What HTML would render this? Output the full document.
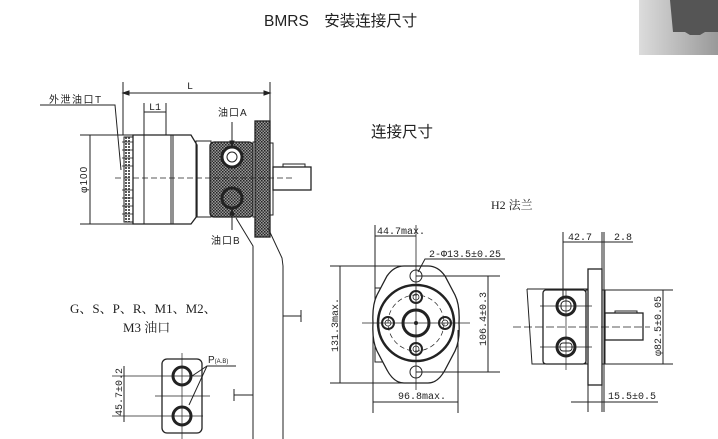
<!DOCTYPE html>
<html><head><meta charset="utf-8"><style>
html,body{margin:0;padding:0;background:#fff;width:718px;height:439px;overflow:hidden}
svg{display:block}
text{font-family:"Liberation Sans","Noto Sans CJK SC",sans-serif;fill:#222}
.s{font-family:"Liberation Serif","Noto Serif CJK SC",serif}
.m{font-family:"Liberation Mono","Noto Sans CJK SC",monospace}
</style></head><body>
<svg width="718" height="439" viewBox="0 0 718 439" xmlns="http://www.w3.org/2000/svg">
<defs>
<pattern id="h" width="3" height="3" patternUnits="userSpaceOnUse">
<rect width="3" height="3" fill="#999"/><rect width="1.5" height="1.5" fill="#222"/><rect x="1.5" y="1.5" width="1.5" height="1.5" fill="#333"/>
</pattern>
<linearGradient id="g" x1="0" x2="1"><stop offset="0" stop-color="#dcdcdc"/><stop offset="1" stop-color="#999"/></linearGradient>
</defs>
<rect x="639" y="0" width="79" height="55" fill="url(#g)"/>
<path d="M670 0 H718 V32 H705 L700 35 H690 L685 32 H673 Z" fill="#555"/>

<text x="264" y="26" font-size="15.5">BMRS　安装连接尺寸</text>
<text x="371" y="137" font-size="15.5">连接尺寸</text>
<text x="491" y="209" font-size="12" class="s">H2 法兰</text>

<g stroke="#222" fill="none" stroke-width="1">
<line x1="123" y1="82" x2="123" y2="135"/><line x1="270" y1="82" x2="270" y2="121"/>
<line x1="123" y1="93" x2="270" y2="93"/>
<path d="M123 93 l6 -2 v4z M270 93 l-6 -2 v4z" fill="#222"/>
<line x1="144" y1="103" x2="144" y2="135"/><line x1="166" y1="103" x2="166" y2="135"/>
<line x1="144" y1="112" x2="166" y2="112"/>
<polyline points="40,105 115,105 121,170"/>
<line x1="80" y1="135" x2="133" y2="135"/><line x1="80" y1="224" x2="133" y2="224"/>
<line x1="90" y1="135" x2="90" y2="224"/>
<rect x="124" y="137" width="9" height="85" fill="#fff"/>
<g stroke-width="0.8"><line x1="122" y1="142" x2="133" y2="142"/><line x1="122" y1="150" x2="133" y2="150"/><line x1="122" y1="158" x2="133" y2="158"/><line x1="122" y1="166" x2="133" y2="166"/><line x1="122" y1="190" x2="133" y2="190"/><line x1="122" y1="198" x2="133" y2="198"/><line x1="122" y1="206" x2="133" y2="206"/><line x1="122" y1="214" x2="133" y2="214"/></g>
<path d="M126 137 V222 M129 137 V222" stroke-width="1.5" stroke-dasharray="2 1"/>
<path d="M133 135 H191 L197 145 V216 L191 224 H133 Z" stroke-width="1.3"/>
<line x1="144" y1="135" x2="144" y2="224"/><line x1="171" y1="135" x2="171" y2="224"/><line x1="173" y1="135" x2="173" y2="224"/>
<rect x="196" y="141" width="15" height="76"/>
<rect x="210" y="142" width="43" height="75" rx="4" fill="url(#h)" stroke-width="1.3"/>
<circle cx="232" cy="157" r="10" fill="#fff" stroke-width="3"/><circle cx="232" cy="157" r="5"/>
<circle cx="232" cy="198" r="10" fill="url(#h)" stroke-width="3"/>
<rect x="253" y="142" width="3" height="75"/>
<rect x="255" y="121" width="15" height="116" fill="url(#h)" stroke-width="1.3"/>
<rect x="270" y="143" width="3" height="72"/>
<rect x="273" y="167" width="38" height="23" fill="#fff" stroke-width="1.3"/>
<rect x="283" y="164" width="22" height="3"/>
<line x1="115" y1="178" x2="292" y2="178" stroke-dasharray="6 3" stroke-width="0.7"/>
<line x1="232" y1="122" x2="232" y2="146"/><path d="M232 147 l-2 -6 h4z" fill="#222"/>
<line x1="232" y1="209" x2="232" y2="230"/><path d="M232 209 l-2 6 h4z" fill="#222"/>
<polyline points="236,218 253,246 253,439"/>
<polyline points="268,228 282,258 283,266 283,439"/>
<line x1="283" y1="316" x2="301" y2="316"/><line x1="301" y1="310" x2="301" y2="322"/>
<line x1="234" y1="395" x2="253" y2="395"/><line x1="234" y1="389" x2="234" y2="401"/>

<rect x="375" y="288" width="10" height="74"/>
<path d="M404 266 H428 Q438 266 445 276 L455 295 Q460 305 459 323 Q460 341 455 351 L445 370 Q438 383 428 383 H404 Q394 383 387 370 L377 351 Q372 341 373 323 Q372 305 377 295 L387 276 Q394 266 404 266Z" fill="#fff" stroke-width="1.3"/>
<circle cx="416" cy="276" r="6"/><circle cx="416" cy="372" r="6"/>
<circle cx="416" cy="323" r="38" stroke-width="2.5"/>
<circle cx="416" cy="323" r="28" stroke-dasharray="5 3" stroke-width="0.7"/>
<g stroke-width="2"><circle cx="416" cy="297" r="6"/><circle cx="416" cy="349" r="6"/><circle cx="388" cy="323" r="6"/><circle cx="445" cy="323" r="6"/></g>
<g stroke-width="0.8"><circle cx="416" cy="297" r="3"/><circle cx="416" cy="349" r="3"/><circle cx="388" cy="323" r="3"/><circle cx="445" cy="323" r="3"/></g>
<circle cx="416" cy="323" r="13" stroke-width="3"/><circle cx="416" cy="323" r="1.5" fill="#222"/>
<line x1="362" y1="323" x2="470" y2="323" stroke-width="0.8"/>
<line x1="416" y1="225" x2="416" y2="390" stroke-width="0.8"/>
<line x1="375" y1="225" x2="375" y2="288"/>
<line x1="375" y1="236" x2="416" y2="236"/>
<polyline points="505,259 425,259 418,272"/>
<line x1="330" y1="266" x2="410" y2="266"/><line x1="330" y1="383" x2="410" y2="383"/>
<line x1="340" y1="266" x2="340" y2="383"/>
<line x1="416" y1="276" x2="500" y2="276"/><line x1="416" y1="372" x2="500" y2="372"/>
<line x1="488" y1="276" x2="488" y2="372"/>
<line x1="373" y1="330" x2="373" y2="413"/><line x1="458" y1="330" x2="458" y2="413"/>
<line x1="373" y1="402" x2="458" y2="402"/>

<path d="M527 289 L532 364 H543" />
<line x1="527" y1="289" x2="588" y2="289"/><line x1="532" y1="364" x2="588" y2="364"/>
<rect x="543" y="290" width="43" height="74" rx="3" stroke-width="1.3" fill="#fff"/>
<circle cx="566" cy="306" r="9" stroke-width="3"/><rect x="561" y="301" width="10" height="10" rx="4"/>
<circle cx="566" cy="347" r="9" stroke-width="3"/><rect x="560" y="343" width="12" height="8" rx="3"/>
<rect x="586" y="290" width="2" height="74"/>
<rect x="588" y="269" width="14" height="116" stroke-width="1.3" fill="#fff"/>
<rect x="602" y="290" width="3" height="74"/>
<rect x="605" y="313" width="38" height="27" stroke-width="1.3" fill="#fff"/>
<rect x="615" y="311" width="22" height="2"/>
<line x1="513" y1="327" x2="650" y2="327" stroke-dasharray="8 3" stroke-width="0.7"/>
<line x1="566" y1="290" x2="566" y2="370" stroke-width="0.7"/>
<line x1="540" y1="306" x2="592" y2="306" stroke-width="0.7"/><line x1="540" y1="347" x2="592" y2="347" stroke-width="0.7"/>
<line x1="563" y1="232" x2="563" y2="300"/><line x1="602" y1="232" x2="602" y2="412"/><line x1="604" y1="232" x2="604" y2="412"/>
<line x1="563" y1="242" x2="633" y2="242"/>
<line x1="588" y1="385" x2="588" y2="412"/>
<line x1="571" y1="402" x2="658" y2="402"/>
<line x1="605" y1="290" x2="673" y2="290"/><line x1="605" y1="364" x2="673" y2="364"/>
<line x1="663" y1="290" x2="663" y2="364"/>

<rect x="162" y="359" width="40" height="74" rx="5" stroke-width="1.3"/>
<circle cx="182" cy="376" r="9" stroke-width="3"/><circle cx="182" cy="416" r="9" stroke-width="3"/>
<line x1="182" y1="353" x2="182" y2="439" stroke-width="0.7"/>
<line x1="155" y1="396" x2="210" y2="396" stroke-width="0.7"/>
<line x1="112" y1="376" x2="203" y2="376" stroke-width="0.7"/><line x1="112" y1="416" x2="203" y2="416" stroke-width="0.7"/>
<line x1="124" y1="366" x2="124" y2="422"/>
<polyline points="236,366 207,366 192,376"/><line x1="207" y1="366" x2="189" y2="405"/>
</g>

<g font-size="10">
<text x="187" y="89" class="m">L</text>
<text x="149" y="110" class="m">L1</text>
<text x="49" y="103" letter-spacing="1.5">外泄油口T</text>
<text x="218" y="116" letter-spacing="1">油口A</text>
<text x="211" y="244" letter-spacing="1">油口B</text>
<text transform="translate(87,193) rotate(-90)" letter-spacing="1">φ100</text>
<text x="377" y="234" class="m">44.7max.</text>
<text x="429" y="257" class="m">2-Φ13.5±0.25</text>
<text transform="translate(338,352) rotate(-90)" class="m">131.3max.</text>
<text transform="translate(486,346) rotate(-90)" class="m">106.4±0.3</text>
<text x="398" y="399" class="m">96.8max.</text>
<text x="568" y="240" class="m">42.7</text>
<text x="614" y="240" class="m">2.8</text>
<text transform="translate(661,356) rotate(-90)" class="m">φ82.5±0.05</text>
<text x="608" y="399" class="m">15.5±0.5</text>
<text transform="translate(122,416) rotate(-90)" class="m">45.7±0.2</text>
<text x="208" y="363">P<tspan font-size="6">(A.B)</tspan></text>
</g>
<text x="70" y="313" font-size="13" class="s">G、S、P、R、M1、M2、</text>
<text x="123" y="332" font-size="13" class="s">M3 油口</text>
</svg>
</body></html>
